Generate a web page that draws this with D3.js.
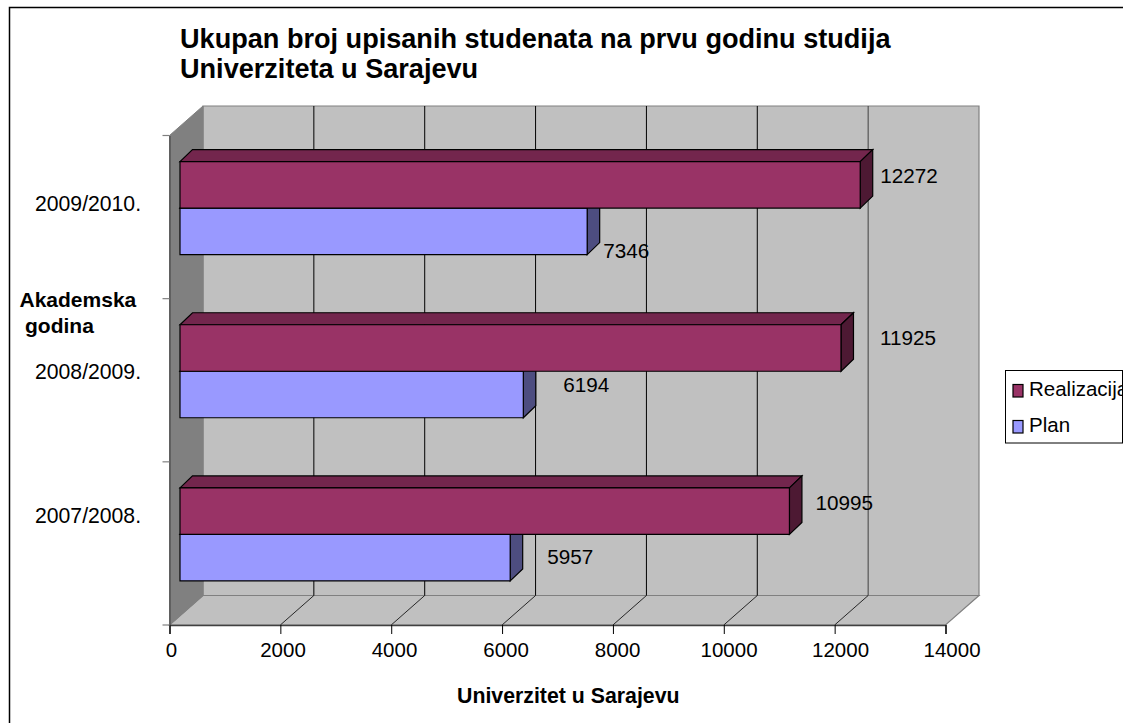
<!DOCTYPE html>
<html><head><meta charset="utf-8">
<script src="https://cdn.jsdelivr.net/npm/d3@7"></script>
<style>
html,body{margin:0;padding:0;background:#fff;overflow:hidden}
text{font-family:"Liberation Sans",Arial,sans-serif;fill:#000}
</style></head><body>
<svg id="c" width="1123" height="723" style="display:block"></svg>
<script>
const years = ["2007/2008.", "2008/2009.", "2009/2010."];
const realizacija = [10995, 11925, 12272];
const plan = [5957, 6194, 7346];
const xTicks = [0, 2000, 4000, 6000, 8000, 10000, 12000, 14000];
const titleLines = ["Ukupan broj upisanih studenata na prvu godinu studija", "Univerziteta u Sarajevu"];
const yTitleLines = ["Akademska", "godina"];
const xTitle = "Univerzitet u Sarajevu";
const seriesNames = ["Realizacija", "Plan"];
const seriesColors = ["#993366", "#9999ff"];
const topColors = ["#73264d", "#7373bf"];
const sideColors = ["#4d1933", "#4d4d80"];
// hand-placed label nudges in the original, per category
const labelNudgeX = [[26, 37], [39, 40], [20, 16]];
const labelNudgeY = [[-1.3, 6.5], [-3.5, -2.8], [-2.3, 26.4]];
const catNudgeY = [-20.5, -1, -6];

const svg = d3.select("#c");
const x = d3.scaleLinear().domain([0, 14000]).range([169.5, 945.5]);
const y = d3.scaleBand().domain(years).range([625, 135.5]);
const DX = 33.5, DY = 29.5;      // wall depth
const bx = 10.5, by = 9;         // bars' front plane inside the depth
const bd = 12.5, bdy = 12;       // bars' own depth
const barH = 46.5;

svg.append("rect").attr("x", 9.5).attr("y", 7.5).attr("width", 1200).attr("height", 800)
  .attr("fill", "#fff").attr("stroke", "#000").attr("stroke-width", 1.5);

const yTop = y.range()[1], yBot = y.range()[0], x0 = x(0), x1 = x(14000);
const poly = (pts, fill, stroke, w) => svg.append("polygon")
  .attr("points", pts.map(p => p.join(",")).join(" "))
  .attr("fill", fill).attr("stroke", stroke || "none").attr("stroke-width", w || 1);

// back wall, floor, side wall
poly([[x0+DX,yTop-DY],[x1+DX,yTop-DY],[x1+DX,yBot-DY],[x0+DX,yBot-DY]], "#c0c0c0", "#808080", 1.2);
poly([[x0,yBot],[x1,yBot],[x1+DX,yBot-DY],[x0+DX,yBot-DY]], "#c0c0c0", "#808080", 1.2);
poly([[x0,yTop],[x0+DX,yTop-DY],[x0+DX,yBot-DY],[x0,yBot]], "#808080", "#808080", 1);

// grid lines
xTicks.slice(1, -1).forEach(t => {
  svg.append("line").attr("x1", x(t)+DX).attr("x2", x(t)+DX).attr("y1", yTop-DY).attr("y2", yBot-DY)
    .attr("stroke", t === 12000 ? "#404040" : "#000").attr("stroke-width", 1);
  svg.append("line").attr("x1", x(t)).attr("x2", x(t)+DX).attr("y1", yBot).attr("y2", yBot-DY)
    .attr("stroke", "#000").attr("stroke-width", 0.8);
});

// axes
const axX = svg.append("g").attr("transform", `translate(0,${yBot})`)
  .call(d3.axisBottom(x).tickValues(xTicks).tickSize(9).tickPadding(8).tickFormat(d3.format("d")));
axX.select(".domain").attr("stroke", "#404040").attr("stroke-width", 1.5);
axX.selectAll("text").attr("font-size", 20.5).attr("fill", "#000")
  .attr("dx", (d, i) => 1.5 + i*0.65).style("font-family", '"Liberation Sans",Arial,sans-serif');
const axY = svg.append("g").attr("transform", `translate(${x0},0)`)
  .call(d3.axisLeft(y).tickSize(0).tickFormat(""));
axY.select(".domain").attr("stroke", "#404040");
d3.range(4).forEach(k => {
  const v = yBot - k*y.step();
  svg.append("line").attr("x1", x0-7).attr("x2", x0).attr("y1", v).attr("y2", v).attr("stroke", "#808080").attr("stroke-width", 1.2);
});

// bars: top category first, plan under realizacija
const barEnd = v => x0 + bx + (x(v) - x0);
[2, 1, 0].forEach(i => {
  const yc = y(years[i]) + y.bandwidth()/2 - by;
  [plan, realizacija].forEach(vals => {
    const s = vals === realizacija ? 0 : 1;
    const y0 = yc - barH + s*barH, y1 = y0 + barH;
    const l = x0 + bx, r = barEnd(vals[i]);
    poly([[l,y0],[l+bd,y0-bdy],[r+bd,y0-bdy],[r,y0]], topColors[s], "#000", 1.2);
    poly([[r,y0],[r+bd,y0-bdy],[r+bd,y1-bdy],[r,y1]], sideColors[s], "#000", 1.2);
    poly([[l,y0],[r,y0],[r,y1],[l,y1]], seriesColors[s], "#000", 1.2);
  });
});
// data labels on top of everything
[0, 1, 2].forEach(i => {
  const yc = y(years[i]) + y.bandwidth()/2 - by;
  [realizacija, plan].forEach((vals, s) => {
    svg.append("text").attr("font-size", 20.7)
      .attr("x", barEnd(vals[i]) + labelNudgeX[i][s])
      .attr("y", yc - barH/2 + s*barH + labelNudgeY[i][s])
      .text(vals[i]);
  });
});

// category labels
years.forEach((yr, i) => svg.append("text").attr("font-size", 21.2)
  .attr("x", 35).attr("y", y(yr) + y.bandwidth()/2 + catNudgeY[i]).text(yr));

// titles
titleLines.forEach((t, i) => svg.append("text").attr("x", 180).attr("y", 48 + i*30)
  .attr("font-size", 27.1).attr("font-weight", "bold").text(t));
yTitleLines.forEach((t, i) => svg.append("text").attr("x", 19.5 + i*5.5).attr("y", 306.7 + i*26)
  .attr("font-size", 21).attr("font-weight", "bold").text(t));
svg.append("text").attr("x", 457).attr("y", 702.5).attr("font-size", 21.3).attr("font-weight", "bold").text(xTitle);

// legend
svg.append("rect").attr("x", 1005.5).attr("y", 370.5).attr("width", 117).attr("height", 72.5)
  .attr("fill", "#fff").attr("stroke", "#000");
seriesNames.forEach((n, i) => {
  const ly = 396 + i*36;
  svg.append("rect").attr("x", 1013).attr("y", ly-11.5).attr("width", 10).attr("height", 12.5)
    .attr("fill", seriesColors[i]).attr("stroke", "#000").attr("stroke-width", 1.2);
  svg.append("text").attr("x", 1029).attr("y", ly).attr("font-size", 20.5).text(n);
});
</script>
</body></html>
